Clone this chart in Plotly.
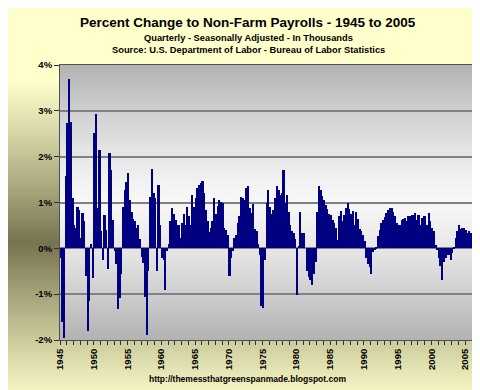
import plotly.graph_objects as go

# ---------------- data (quarterly % change) ----------------
start_year = 1945
q_1945_1949 = [-0.2, -1.6, -1.95, 1.57,  2.73, 3.7, 2.76, 1.09,  0.51, 0.44, 0.91, 0.84,
               0.23, 0.77, 0.6, -0.6,  -1.81, -1.15, 0.1, -0.64]
q_1950_1959 = [2.51, 2.94, 0.88, 2.14,  0.37, -0.25, 0.73, 0.4,  -0.46, 2.07, 1.71, 0.62,
               -0.05, -0.35, -1.33, -1.08,  -0.57, 0.91, 1.27, 1.45,  1.64, 1.06, 0.8, 0.65,
               0.6, 0.45, 0.5, 0.2,  -0.19, -0.33, -1.07, -1.9,  -0.5, 1.13, 1.74, 1.2,
               1.1, -0.5, 1.38, 0.51]
q_1960_1969 = [-0.21, -0.25, -0.9, -0.05,  0.1, 0.59, 0.88, 0.74,  0.62, 0.5, 0.5, 0.22,
               0.55, 0.74, 0.5, 0.91,  0.7, 0.5, 1.16, 0.9,  1.09, 1.31, 1.38, 1.42,
               1.46, 1.2, 0.84, 0.59,  0.35, 0.45, 0.6, 1.1,  0.75, 0.92, 1.06, 1.02,
               1.0, 0.45, 0.4, 0.3]
q_1970_1979 = [-0.6, -0.21, -0.05, 0.22,  0.3, 0.55, 0.7, 1.13,  1.1, 1.06, 1.31, 1.35,
               0.87, 0.77, 0.97, 0.42,  0.37, 0.1, -0.15, -1.25,  -1.3, -0.25, 0.98, 1.27,
               0.9, 0.74, 0.84, 1.09,  1.35, 1.27, 1.16, 1.2,  1.72, 1.0, 1.16, 0.8,
               0.5, 0.37, 0.34, 0.2]
q_1980_1989 = [-1.02, 0.05, 0.8, 0.34,  0.33, 0.0, -0.5, -0.63,  -0.68, -0.8, -0.55, -0.3,
               0.8, 1.35, 1.28, 1.15,  1.05, 0.95, 0.85, 0.75,  0.73, 0.62, 0.55, 0.44,
               0.19, 0.7, 0.81, 0.6,  0.72, 0.88, 0.99, 0.85,  0.75, 0.82, 0.5, 0.8,
               0.65, 0.42, 0.37, 0.3]
q_1990_1999 = [0.17, -0.21, -0.34, -0.4,  -0.57, -0.07, -0.03, 0.04,  0.26, 0.4, 0.55, 0.62,
               0.68, 0.78, 0.84, 0.88,  0.88, 0.8, 0.7, 0.55,  0.5, 0.51, 0.62, 0.64,
               0.66, 0.59, 0.7, 0.7,  0.73, 0.73, 0.77, 0.62,  0.73, 0.51, 0.66, 0.7,
               0.7, 0.51, 0.77, 0.59]
q_2000_2005 = [0.45, 0.37, 0.08, -0.03,  -0.21, -0.39, -0.68, -0.3,  -0.21, -0.14, -0.14, -0.25,
               -0.1, 0.04, 0.22, 0.37,  0.51, 0.42, 0.44, 0.45,  0.4, 0.33, 0.37, 0.34]

tick_years = [1945, 1950, 1955, 1960, 1965, 1970, 1975, 1980, 1985, 1990, 1995, 2000, 2005]
tick_year_labels = ["1945", "1950", "1955", "1960", "1965", "1970", "1975", "1980",
                    "1985", "1990", "1995", "2000", "2005"]
pct_ticks = [-2, -1, 0, 1, 2, 3, 4]
pct_tick_labels = ["-2%", "-1%", "0%", "1%", "2%", "3%", "4%"]

values = q_1945_1949 + q_1950_1959 + q_1960_1969 + q_1970_1979 + q_1980_1989 + q_1990_1999 + q_2000_2005
quarters = [start_year + (i + 0.5) / 4 for i in range(len(values))]

# ---------------- layout geometry (pixels) ----------------
W, H = 480, 390
L, R, T, B = 52, 16, 57, 58   # plot-area insets

def fx(xpx):
    return xpx / W

def fy(ypx):
    return 1 - ypx / H

def mix(c1, c2, w):
    return "rgb(%d,%d,%d)" % tuple(round(a + (b - a) * w) for a, b in zip(c1, c2))

FONT = "Liberation Sans, Arial, sans-serif"

# ---------------- decorative background gradients (drawn as horizontal strips) ----------------
light_bg, dark_bg = (255, 255, 204), (118, 116, 80)
centre_pl, edge_pl = (247, 247, 247), (178, 178, 178)
STRIP = 2
fig_rows, fig_cols = [], []
for r in range(0, H, STRIP):
    yc = r + STRIP / 2
    w = max(0.0, 1 - abs(yc - 235) / 165) ** 1.1
    fig_rows.append(yc)
    fig_cols.append(mix(light_bg, dark_bg, w))
plot_rows, plot_cols = [], []
for r in range(T, H - B):
    yc = r + 0.5
    t = (yc - T) / (H - T - B)
    w = (abs(t - 0.5) / 0.5) ** 1.3
    plot_rows.append(yc)
    plot_cols.append(mix(centre_pl, edge_pl, w))

fig = go.Figure()
fig.add_trace(go.Bar(orientation="h", y=fig_rows, x=[W] * len(fig_rows), base=0, width=STRIP + 0.3,
                     marker=dict(color=fig_cols, line=dict(width=0)), hoverinfo="skip",
                     xaxis="x", yaxis="y"))
fig.add_trace(go.Bar(orientation="h", y=plot_rows, x=[W - L - R] * len(plot_rows), base=L, width=1.3,
                     marker=dict(color=plot_cols, line=dict(width=0)), hoverinfo="skip",
                     xaxis="x", yaxis="y"))
fig.add_trace(go.Bar(x=quarters, y=values, width=0.25,
                     marker=dict(color="#000080", line=dict(width=0)),
                     hoverinfo="x+y", xaxis="x2", yaxis="y2"))

annotations = [
    dict(text="<b>Percent Change to Non-Farm Payrolls - 1945 to 2005</b>", x=fx(240), y=fy(15),
         font=dict(size=13.5, color="black", family=FONT)),
    dict(text="<b>Quarterly - Seasonally Adjusted - In Thousands</b>", x=fx(240), y=fy(30),
         font=dict(size=9.3, color="black", family=FONT)),
    dict(text="<b>Source: U.S. Department of Labor - Bureau of Labor Statistics</b>", x=fx(240), y=fy(42),
         font=dict(size=9.3, color="black", family=FONT)),
    dict(text="<b>http://themessthatgreenspanmade.blogspot.com</b>", x=fx(239), y=fy(371),
         font=dict(size=8.5, color="black", family=FONT)),
]
for a in annotations:
    a.update(xref="paper", yref="paper", xanchor="center", yanchor="middle", showarrow=False)

fig.update_layout(
    width=W, height=H,
    margin=dict(l=0, r=0, t=0, b=0, pad=0),
    paper_bgcolor="rgb(255,255,204)",
    plot_bgcolor="rgba(0,0,0,0)",
    showlegend=False,
    barmode="overlay",
    bargap=0,
    annotations=annotations,
    xaxis=dict(domain=[0, 1], range=[0, W], visible=False, fixedrange=True),
    yaxis=dict(domain=[0, 1], range=[H, 0], visible=False, fixedrange=True),
    xaxis2=dict(domain=[fx(L), fx(W - R)], anchor="y2", automargin=False,
                range=[1945, 2006], tickmode="array", tickvals=tick_years, ticktext=tick_year_labels,
                tickangle=-90, ticks="outside", ticklen=4, tickcolor="#303030", tickwidth=1,
                minor=dict(dtick=1, tick0=1945, ticks="outside", ticklen=4, tickcolor="#303030"),
                showgrid=False, zeroline=False, showline=True, linecolor="#505050", linewidth=1,
                mirror=True,
                tickfont=dict(size=9.5, color="black", family=FONT, weight="bold")),
    yaxis2=dict(domain=[1 - (H - B) / H, 1 - T / H], anchor="x2", automargin=False,
                range=[-2, 4], tickmode="array", tickvals=pct_ticks, ticktext=pct_tick_labels,
                ticks="outside", ticklen=5, tickcolor="#303030",
                showgrid=True, gridcolor="#808080", gridwidth=2, zeroline=False,
                showline=True, linecolor="#505050", linewidth=1, mirror=True,
                tickfont=dict(size=9.5, color="black", family=FONT, weight="bold")),
)

fig.write_html("out.html")
